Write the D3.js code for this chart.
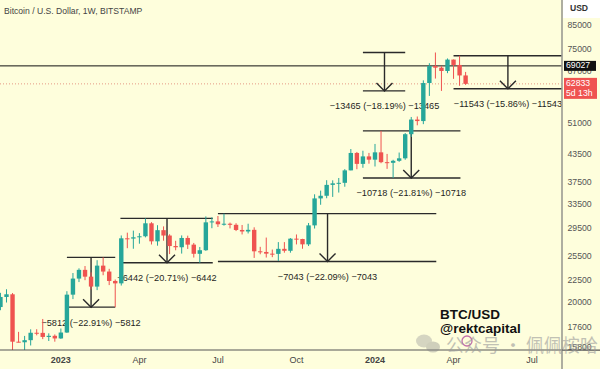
<!DOCTYPE html>
<html><head><meta charset="utf-8">
<script src="https://cdn.jsdelivr.net/npm/d3@7"></script>
<style>body{margin:0;background:#fefedc;}svg{display:block}</style>
</head><body><svg id="c" width="600" height="369"></svg>
<script>
// ---------- DATA ----------
const weekStarts = ["2022-10-24","2022-10-31","2022-11-07","2022-11-14","2022-11-21","2022-11-28","2022-12-05","2022-12-12","2022-12-19","2022-12-26",
"2023-01-02","2023-01-09","2023-01-16","2023-01-23","2023-01-30","2023-02-06","2023-02-13","2023-02-20","2023-02-27","2023-03-06",
"2023-03-13","2023-03-20","2023-03-27","2023-04-03","2023-04-10","2023-04-17","2023-04-24","2023-05-01","2023-05-08","2023-05-15",
"2023-05-22","2023-05-29","2023-06-05","2023-06-12","2023-06-19","2023-06-26","2023-07-03","2023-07-10","2023-07-17","2023-07-24",
"2023-07-31","2023-08-07","2023-08-14","2023-08-21","2023-08-28","2023-09-04","2023-09-11","2023-09-18","2023-09-25","2023-10-02",
"2023-10-09","2023-10-16","2023-10-23","2023-10-30","2023-11-06","2023-11-13","2023-11-20","2023-11-27","2023-12-04","2023-12-11",
"2023-12-18","2023-12-25","2024-01-01","2024-01-08","2024-01-15","2024-01-22","2024-01-29","2024-02-05","2024-02-12","2024-02-19",
"2024-02-26","2024-03-04","2024-03-11","2024-03-18","2024-03-25","2024-04-01","2024-04-08","2024-04-15"];
const opens  = [19570,20630,20920,16330,16280,16460,17110,17100,16740,16840,
16610,17130,20880,22710,23770,22940,21780,24300,23560,22430,
22150,28030,27990,28180,28330,30320,27590,29250,28440,26920,
26750,28080,27120,25850,26340,30470,30620,30170,30250,30080,
29280,29050,29300,26190,26100,25870,25840,26530,26260,27980,
27930,27160,29990,34530,35010,37060,37360,37460,39980,43790,
41360,43010,42280,43930,41730,41590,42030,42580,48300,52140,
51730,63110,68960,68380,67210,71330,69360,65660];
const highs  = [21080,21480,21060,17190,16830,17420,17430,18390,17060,16960,
17490,21260,23380,23960,24250,23460,25000,25370,23900,22600,
28450,28870,29180,28800,31106,30500,30020,29830,28630,27670,
28460,28420,27360,26790,31430,31280,31500,31883,30430,30330,
30050,30250,29690,26810,28140,26430,27480,27480,28060,28600,
27960,30370,35280,35960,37980,37950,38420,40240,44700,44020,
44300,43800,45900,49142,43570,42250,43880,48590,52850,52980,
64000,70000,74024,68920,71760,71360,72781,66880];
const lows   = [19250,20040,15590,16270,15480,16010,16880,16550,16390,16330,
16570,17100,20400,22300,22520,21450,21380,23110,21950,19558,
21900,26620,26540,27250,28170,27140,26970,27680,25810,26330,
25880,26510,25350,24664,26250,29550,29740,29950,29520,29110,
28600,28750,25300,25790,25350,25400,24900,26000,26000,27150,
26540,26920,29500,33400,34560,34800,35600,36700,39980,40220,
40530,41400,40800,41500,40300,38424,41800,42260,47600,50600,
50900,59000,64600,60559,66450,64500,62200,62500];
const closes = [20630,20920,16330,16280,16460,17110,17100,16740,16840,16610,
17130,20880,22710,23770,22940,21780,24300,23560,22430,22150,
28030,27990,28180,28330,30320,27590,29250,28440,26920,26750,
28080,27120,25850,26340,30470,30620,30170,30250,30080,29280,
29050,29300,26190,26100,25870,25840,26530,26260,27980,27930,
27160,29990,34530,35010,37060,37360,37460,39980,43790,41360,
43010,42280,43930,41730,41590,42030,42580,48300,52140,51730,
63110,68960,68380,67210,71330,69360,65660,62833];

const yTickValues = [85000,75000,67000,51000,43500,37500,33500,29500,25500,22500,20000,17600,15800];
const xTickDates  = ["2023-01-02","2023-04-03","2023-07-03","2023-10-02","2024-01-01","2024-04-01","2024-07-01"];
const xTickLabels = ["2023","Apr","Jul","Oct","2024","Apr","Jul"];

// price-range measurements
const measStart  = ["2023-01-09","2023-03-12","2023-07-03","2023-12-18","2023-12-18","2024-04-01"];
const measEnd    = ["2023-03-06","2023-06-27","2024-03-12","2024-04-09","2024-02-05","2024-09-01"];
const measArrow  = ["2023-02-06","2023-05-05","2023-11-07","2024-02-12","2024-01-12","2024-06-03"];
const measTop    = [25370,31106,31883,49142,74024,72781];
const measBottom = [19558,24664,24840,38424,60559,61238];

const levelPrice = 69027;
const lastPrice = 62833;
const countdown = "5d 13h";

// ---------- SCALES ----------
const P = d=>new Date(d+"T00:00:00Z");
const x = d3.scaleUtc().domain([P("2023-01-01"),P("2024-01-01")]).range([60,375]);
const y = d3.scaleLog().domain([75000,15800]).range([50,348]);
const axisX = 562, baseY = 350;
const UP="#26a69a", DN="#ef5350";
const FONT = "Liberation Sans, Arial, sans-serif";

const svg = d3.select("#c");
svg.append("rect").attr("width",600).attr("height",369).attr("fill","#fefedc");
svg.append("defs").append("clipPath").attr("id","plot").append("rect")
  .attr("x",0).attr("y",0).attr("width",axisX).attr("height",baseY);
const g = svg.append("g").attr("clip-path","url(#plot)");

// level line and last price dotted line
g.append("line").attr("x1",0).attr("x2",axisX).attr("y1",y(levelPrice)).attr("y2",y(levelPrice))
  .attr("stroke","#111").attr("stroke-width",1);
g.append("line").attr("x1",0).attr("x2",axisX).attr("y1",y(lastPrice)).attr("y2",y(lastPrice))
  .attr("stroke","#e59a86").attr("stroke-width",1).attr("stroke-dasharray","1,2");

// measurements
const fmtPct = v=>(v*100).toFixed(2);
const mg = g.append("g").attr("stroke","#2a2a2a").attr("stroke-width",1.4).attr("fill","none");
measTop.forEach((t,i)=>{
  const x0=x(P(measStart[i])), x1=x(P(measEnd[i])), xa=x(P(measArrow[i]));
  const yt=y(t), yb=y(measBottom[i]);
  mg.append("line").attr("x1",x0).attr("x2",x1).attr("y1",yt).attr("y2",yt);
  mg.append("line").attr("x1",x0).attr("x2",x1).attr("y1",yb).attr("y2",yb);
  mg.append("line").attr("x1",xa).attr("x2",xa).attr("y1",yt).attr("y2",yb);
  mg.append("path").attr("d",`M${xa-8},${yb-8}L${xa},${yb}L${xa+8},${yb-8}`);
  const diff = t-measBottom[i];
  g.append("text").attr("x",xa).attr("y",yb+16).attr("text-anchor","middle")
    .attr("dominant-baseline","middle").attr("font-family",FONT)
    .attr("font-size",9.2).attr("fill","#1e1e1e")
    .text(`\u2212${diff} (\u2212${fmtPct(diff/t)}%) \u2212${diff}`);
});

// candles
const cg = g.append("g");
weekStarts.forEach((d,i)=>{
  const cx=x(P(d)), o=opens[i], c=closes[i], col = c>=o?UP:DN;
  cg.append("line").attr("x1",cx).attr("x2",cx).attr("y1",y(highs[i])).attr("y2",y(lows[i]))
    .attr("stroke",col).attr("stroke-width",1);
  const yt=y(Math.max(o,c)), yb=y(Math.min(o,c));
  cg.append("rect").attr("x",cx-2.2).attr("width",4.4).attr("y",yt).attr("height",Math.max(1,yb-yt)).attr("fill",col);
});

// title
svg.append("text").attr("x",4).attr("y",14).attr("font-family",FONT)
  .attr("font-size",8.6).attr("fill","#444").text("Bitcoin / U.S. Dollar, 1W, BITSTAMP");

// author watermark
svg.append("text").attr("x",440).attr("y",319).attr("font-family",FONT)
  .attr("font-weight","bold").attr("font-size",13.5).attr("fill","#111").text("BTC/USD");
svg.append("text").attr("x",440).attr("y",333).attr("font-family",FONT)
  .attr("font-weight","bold").attr("font-size",13.5).attr("fill","#111").text("@rektcapital");

// bottom line
svg.append("line").attr("x1",0).attr("x2",600).attr("y1",baseY).attr("y2",baseY).attr("stroke","#555").attr("stroke-width",1);

// x axis labels
xTickDates.forEach((d,i)=>{
  svg.append("text").attr("x",x(P(d))).attr("y",361).attr("text-anchor","middle").attr("dominant-baseline","middle")
    .attr("font-family",FONT).attr("font-size",9)
    .attr("font-weight",/^\d{4}$/.test(xTickLabels[i])?"bold":"normal").attr("fill","#444").text(xTickLabels[i]);
});

// right axis panel
svg.append("rect").attr("x",axisX).attr("y",0).attr("width",600-axisX).attr("height",baseY).attr("fill","#fefedc");
svg.append("line").attr("x1",axisX).attr("x2",axisX).attr("y1",0).attr("y2",369).attr("stroke","#9a9a92").attr("stroke-width",1.6);
svg.append("line").attr("x1",axisX).attr("x2",600).attr("y1",baseY).attr("y2",baseY).attr("stroke","#555").attr("stroke-width",1);
svg.append("rect").attr("x",axisX+1).attr("y",0).attr("width",37).attr("height",18).attr("fill","#ffffff");
svg.append("text").attr("x",579).attr("y",11).attr("text-anchor","middle").attr("font-family",FONT)
  .attr("font-size",8.6).attr("font-weight","bold").attr("fill","#333").text("USD");
yTickValues.forEach(v=>{
  svg.append("text").attr("x",567.5).attr("y",y(v)).attr("dominant-baseline","middle")
    .attr("font-family",FONT).attr("font-size",8.7).attr("fill","#555").text(v);
});
// level label
svg.append("rect").attr("x",564).attr("y",y(levelPrice)-5).attr("width",32).attr("height",10).attr("fill","#111");
svg.append("text").attr("x",566).attr("y",y(levelPrice)).attr("dominant-baseline","middle")
  .attr("font-family",FONT).attr("font-size",8.7).attr("fill","#fff").text(levelPrice);
// last price label
svg.append("rect").attr("x",564).attr("y",y(lastPrice)-6).attr("width",33).attr("height",21).attr("fill",DN);
svg.append("text").attr("x",566).attr("y",y(lastPrice)-0.5).attr("dominant-baseline","middle")
  .attr("font-family",FONT).attr("font-size",8.7).attr("fill","#fff").text(lastPrice);
svg.append("text").attr("x",566).attr("y",y(lastPrice)+9.5).attr("dominant-baseline","middle")
  .attr("font-family",FONT).attr("font-size",8.7).attr("fill","#fff").text(countdown);

// publisher watermark (drawn on top of everything)
const wm = svg.append("g").attr("opacity",0.4);
wm.append("ellipse").attr("cx",424).attr("cy",341).attr("rx",8).attr("ry",6.5).attr("fill","#9a9a9a");
wm.append("ellipse").attr("cx",433).attr("cy",347).attr("rx",7).attr("ry",5.5).attr("fill","#8a8a8a");
svg.append("circle").attr("cx",467).attr("cy",341).attr("r",5).attr("fill","none").attr("stroke","#b0409a").attr("stroke-width",1.3).attr("opacity",0.75);
svg.append("text").attr("x",446).attr("y",352).attr("font-family","Noto Sans CJK SC").attr("font-size",18)
  .attr("fill","#9a9a9a").attr("opacity",0.6).text("公众号 · 佩佩桉哈");
</script></body></html>
